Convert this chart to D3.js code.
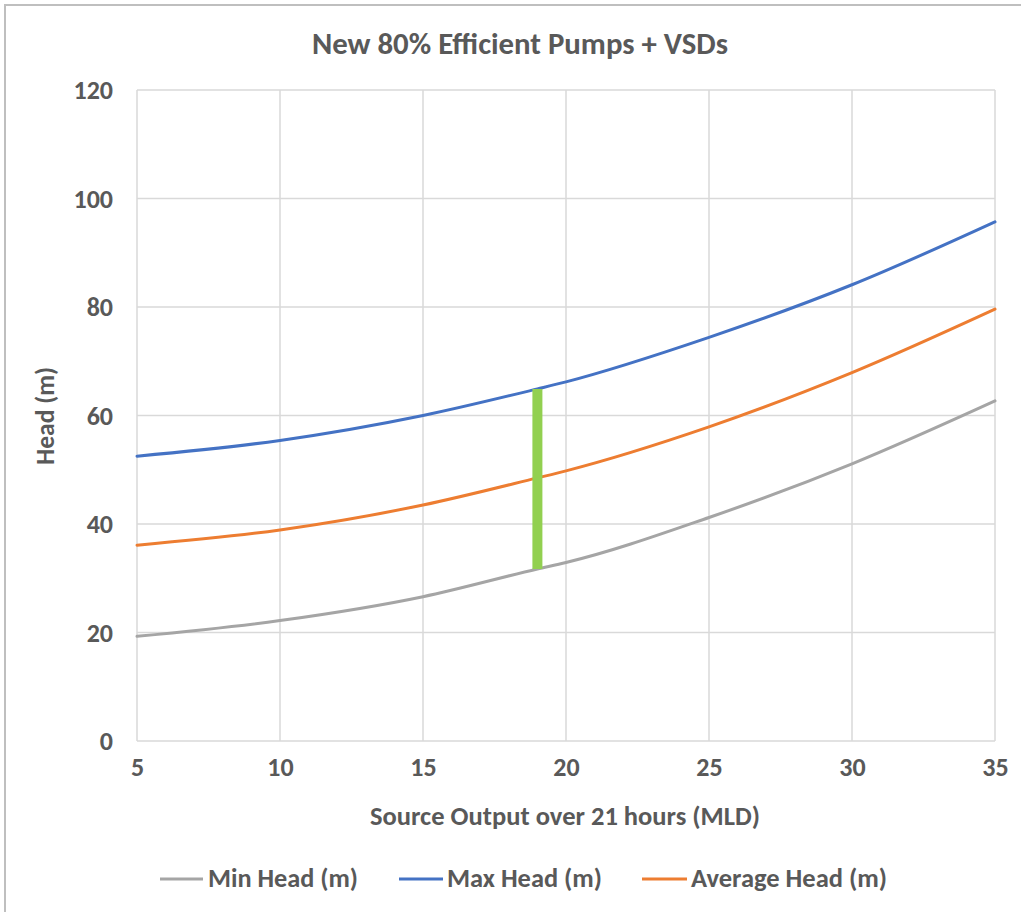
<!DOCTYPE html>
<html>
<head>
<meta charset="utf-8">
<script src="https://cdn.jsdelivr.net/npm/d3@7"></script>
<style>
  html, body { margin: 0; padding: 0; background: #fff; }
  svg { display: block; font-family: Carlito, Lato, "Open Sans", sans-serif; }
</style>
</head>
<body>
<svg id="chart" width="1021" height="912"></svg>
<script>
// ---- Data ----
const outputMLD = [5, 10, 15, 19, 20, 25, 30, 35];
const minHead   = [19.3, 22.2, 26.6, 31.7, 32.9, 41.2, 51.1, 62.7];
const maxHead   = [52.5, 55.4, 60.0, 64.9, 66.2, 74.4, 84.1, 95.7];
const avgHead   = [36.1, 38.9, 43.5, 48.5, 49.8, 57.9, 67.9, 79.6];
const markerX   = [19];
const markerRange = [31.7, 64.9];
const xTicks = [5, 10, 15, 20, 25, 30, 35];
const yTicks = [0, 20, 40, 60, 80, 100, 120];
const seriesNames = ["Min Head (m)", "Max Head (m)", "Average Head (m)"];
const seriesColors = ["#A5A5A5", "#4472C4", "#ED7D31"];
const titleText = "New 80% Efficient Pumps + VSDs";
const xTitle = "Source Output over 21 hours (MLD)";
const yTitle = "Head (m)";

const svg = d3.select("#chart");
const textColor = "#595959";
const FONT = "Carlito, Lato, 'Open Sans', sans-serif";

// fit a text element horizontally to a target width
function fit(sel, w) {
  sel.attr("textLength", w).attr("lengthAdjust", "spacingAndGlyphs");
}

// chart border (top and left visible)
svg.append("rect").attr("x", 5).attr("y", 5).attr("width", 1030).attr("height", 930)
  .attr("fill", "none").attr("stroke", "#BFBFBF").attr("stroke-width", 2);

const m = { left: 137, right: 995, top: 90, bottom: 741 };
const x = d3.scaleLinear().domain([5, 35]).range([m.left, m.right]);
const y = d3.scaleLinear().domain([0, 120]).range([m.bottom, m.top]);

// gridlines
const g = svg.append("g");
g.selectAll(".hg").data(yTicks).join("line")
  .attr("x1", m.left).attr("x2", m.right)
  .attr("y1", d => y(d)).attr("y2", d => y(d))
  .attr("stroke", "#D9D9D9").attr("stroke-width", 1.5);
g.selectAll(".vg").data(xTicks).join("line")
  .attr("x1", d => x(d)).attr("x2", d => x(d))
  .attr("y1", m.top).attr("y2", m.bottom)
  .attr("stroke", "#D9D9D9").attr("stroke-width", 1.5);

// axes
const xAxis = d3.axisBottom(x).tickValues(xTicks).tickSize(0).tickPadding(26);
const yAxis = d3.axisLeft(y).tickValues(yTicks).tickSize(0).tickPadding(24);
const gx = svg.append("g").attr("transform", `translate(0,${m.bottom})`).call(xAxis);
const gy = svg.append("g").attr("transform", `translate(${m.left},0)`).call(yAxis);
[gx, gy].forEach(a => {
  a.select(".domain").remove();
  a.attr("font-size", 26).attr("font-family", FONT);
  a.selectAll("text").attr("fill", textColor).attr("font-size", 26).attr("font-weight", "bold")
    .attr("font-family", FONT);
});
gy.selectAll("text").attr("dy", "0.34em");
gx.selectAll("text").attr("dy", "0.34em");

// lines
const line = d3.line().x((d, i) => x(outputMLD[i])).y(d => y(d)).curve(d3.curveMonotoneX);
[minHead, maxHead, avgHead].forEach((s, i) => {
  svg.append("path").datum(s).attr("d", line).attr("fill", "none")
    .attr("stroke", seriesColors[i]).attr("stroke-width", 3).attr("stroke-linecap", "round");
});

// green marker bar
svg.append("line").attr("x1", x(markerX[0])).attr("x2", x(markerX[0]))
  .attr("y1", y(markerRange[0])).attr("y2", y(markerRange[1]))
  .attr("stroke", "#92D050").attr("stroke-width", 10);

// titles
svg.append("text").attr("x", 312).attr("y", 54)
  .attr("fill", textColor).attr("font-size", 31).attr("font-weight", "bold").text(titleText)
  .call(fit, 416);
svg.append("text").attr("x", 370).attr("y", 825)
  .attr("fill", textColor).attr("font-size", 26).attr("font-weight", "bold").text(xTitle)
  .call(fit, 390);
svg.append("text").attr("transform", "translate(54,465) rotate(-90)")
  .attr("fill", textColor).attr("font-size", 26).attr("font-weight", "bold").text(yTitle)
  .call(fit, 98);

// legend
const legendLine = [[160, 203], [399, 443], [642, 687]];
const legendText = [[208, 150], [447, 155], [691, 196]];
const lg = svg.append("g");
seriesNames.forEach((n, i) => {
  lg.append("line").attr("x1", legendLine[i][0]).attr("x2", legendLine[i][1])
    .attr("y1", 879).attr("y2", 879).attr("stroke", seriesColors[i]).attr("stroke-width", 3);
  lg.append("text").attr("x", legendText[i][0]).attr("y", 887)
    .attr("fill", textColor).attr("font-size", 26).attr("font-weight", "bold").text(n)
    .call(fit, legendText[i][1]);
});
</script>
</body>
</html>
